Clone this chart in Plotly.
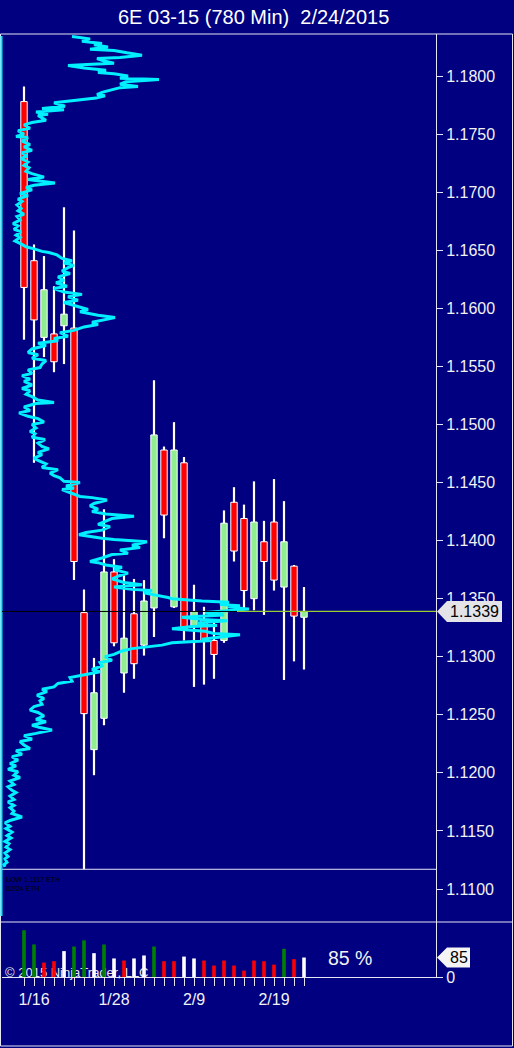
import plotly.graph_objects as go

# ---------------- data ----------------
dates = ["1/15", "1/16", "1/19", "1/20", "1/21", "1/22", "1/23", "1/26", "1/27", "1/28",
         "1/29", "1/30", "2/2", "2/3", "2/4", "2/5", "2/6", "2/9", "2/10", "2/11",
         "2/12", "2/13", "2/16", "2/17", "2/18", "2/19", "2/20", "2/23", "2/24"]
shown_dates = ["1/16", "1/28", "2/9", "2/19"]

opens  = [1.1778, 1.1641, 1.1575, 1.1578, 1.1585, 1.1583, 1.1338, 1.1220, 1.1247, 1.1373,
          1.1286, 1.1337, 1.1310, 1.1342, 1.1478, 1.1343, 1.1467, 1.1326, 1.1332, 1.1314,
          1.1314, 1.1433, 1.1419, 1.1350, 1.1399, 1.1416, 1.1360, 1.1378, 1.1334]
highs  = [1.1791, 1.1655, 1.1645, 1.1619, 1.1687, 1.1667, 1.1358, 1.1299, 1.1427, 1.1384,
          1.1370, 1.1367, 1.1366, 1.1538, 1.1481, 1.1502, 1.1472, 1.1362, 1.1343, 1.1332,
          1.1426, 1.1446, 1.1431, 1.1451, 1.1417, 1.1453, 1.1434, 1.1379, 1.1360]
lows   = [1.1573, 1.1467, 1.1558, 1.1545, 1.1552, 1.1366, 1.1117, 1.1198, 1.1241, 1.1309,
          1.1269, 1.1281, 1.1301, 1.1317, 1.1402, 1.1342, 1.1314, 1.1274, 1.1276, 1.1281,
          1.1312, 1.1382, 1.1340, 1.1340, 1.1336, 1.1357, 1.1280, 1.1296, 1.1289]
closes = [1.1618, 1.1590, 1.1616, 1.1554, 1.1595, 1.1382, 1.1251, 1.1269, 1.1373, 1.1312,
          1.1316, 1.1294, 1.1348, 1.1491, 1.1422, 1.1478, 1.1324, 1.1339, 1.1314, 1.1302,
          1.1415, 1.1391, 1.1357, 1.1416, 1.1382, 1.1366, 1.1399, 1.1335, 1.1339]

volumes = [204, 142, 63, 69, 113, 133, 160, 104, 142, 81, 72, 81, 94, 133, 69,
           69, 89, 81, 72, 50, 72, 50, 28, 72, 69, 54, 123, 78, 85]
vol_colors = ["g", "g", "r", "r", "w", "g", "g", "w", "g", "w", "r", "w", "w", "g", "r",
              "r", "w", "w", "r", "r", "r", "r", "r", "r", "r", "r", "g", "r", "w"]
vol_pct = "85 %"

low_line = 1.1117

# volume-at-price profile (price level, relative volume)
profile_price = [
    1.1834, 1.1832, 1.1830, 1.1828, 1.1827, 1.1825, 1.1823, 1.1822, 1.1820, 1.1818,
    1.1816, 1.1815, 1.1813, 1.1811, 1.1810, 1.1809, 1.1807, 1.1805, 1.1803, 1.1802,
    1.1800, 1.1798, 1.1797, 1.1795, 1.1793, 1.1791, 1.1790, 1.1788, 1.1786, 1.1784,
    1.1783, 1.1781,
    1.1779, 1.1777, 1.1774, 1.1772, 1.1771, 1.1769, 1.1767, 1.1766, 1.1764, 1.1762,
    1.1760, 1.1758, 1.1755, 1.1753, 1.1750, 1.1748, 1.1747, 1.1744, 1.1741, 1.1739,
    1.1736, 1.1734, 1.1731, 1.1729, 1.1726, 1.1723, 1.1721, 1.1718, 1.1716, 1.1713,
    1.1711, 1.1710, 1.1708, 1.1706, 1.1704, 1.1702, 1.1699, 1.1697, 1.1694, 1.1692,
    1.1689, 1.1686, 1.1684, 1.1681, 1.1679, 1.1676, 1.1673, 1.1671, 1.1668, 1.1666,
    1.1663, 1.1661, 1.1658, 1.1655, 1.1653,
    1.1651, 1.1649, 1.1648, 1.1646, 1.1643, 1.1641, 1.1639, 1.1637, 1.1635, 1.1632,
    1.1630, 1.1627, 1.1624, 1.1622, 1.1619, 1.1617, 1.1614, 1.1612, 1.1610, 1.1607,
    1.1605, 1.1602, 1.1599, 1.1597, 1.1594, 1.1592, 1.1590, 1.1588, 1.1586, 1.1584,
    1.1581, 1.1579, 1.1576, 1.1574, 1.1572, 1.1570, 1.1568, 1.1565, 1.1562, 1.1560,
    1.1557, 1.1555, 1.1552, 1.1549, 1.1547, 1.1544, 1.1542, 1.1539, 1.1537, 1.1534,
    1.1531, 1.1529, 1.1526, 1.1524, 1.1521,
    1.1519, 1.1518, 1.1515, 1.1512, 1.1510, 1.1507, 1.1505, 1.1502, 1.1500, 1.1497,
    1.1494, 1.1492, 1.1489, 1.1487, 1.1484, 1.1481, 1.1479, 1.1476, 1.1474, 1.1471,
    1.1469, 1.1466, 1.1463, 1.1461, 1.1458, 1.1456, 1.1454, 1.1451, 1.1450, 1.1447,
    1.1445, 1.1444, 1.1441, 1.1438, 1.1437, 1.1435, 1.1432, 1.1430, 1.1427, 1.1425,
    1.1423, 1.1421, 1.1419, 1.1417, 1.1414, 1.1412, 1.1409, 1.1407, 1.1405, 1.1402,
    1.1401, 1.1399, 1.1396, 1.1394, 1.1392, 1.1389, 1.1388, 1.1385, 1.1382, 1.1381,
    1.1379, 1.1377, 1.1375, 1.1372, 1.1370, 1.1367, 1.1364, 1.1362, 1.1360, 1.1358,
    1.1357, 1.1355, 1.1353, 1.1351, 1.1350,
    1.1348, 1.1347, 1.1345, 1.1344, 1.1343, 1.1341, 1.1339, 1.1338, 1.1336, 1.1334,
    1.1332, 1.1331, 1.1329, 1.1327, 1.1326, 1.1324, 1.1322, 1.1320, 1.1319, 1.1317,
    1.1315, 1.1314, 1.1312, 1.1310, 1.1308, 1.1307, 1.1305,
    1.1302, 1.1300, 1.1297, 1.1295, 1.1292, 1.1289, 1.1287, 1.1284, 1.1282, 1.1279,
    1.1277, 1.1274, 1.1272, 1.1270, 1.1267, 1.1264, 1.1262, 1.1259, 1.1257, 1.1254,
    1.1252, 1.1249, 1.1246, 1.1244, 1.1241, 1.1239, 1.1237, 1.1234, 1.1232, 1.1229,
    1.1227, 1.1224, 1.1221, 1.1219, 1.1216, 1.1214, 1.1211, 1.1208, 1.1206, 1.1203,
    1.1201, 1.1198, 1.1196, 1.1193, 1.1190, 1.1188, 1.1185, 1.1183, 1.1180, 1.1177,
    1.1175, 1.1172, 1.1170, 1.1167, 1.1165, 1.1162, 1.1159, 1.1157, 1.1154, 1.1152,
    1.1149, 1.1146, 1.1144, 1.1141, 1.1139, 1.1136, 1.1134, 1.1131, 1.1128, 1.1126,
    1.1123, 1.1121, 1.1119,
]
profile_vol = [
    70, 88, 80, 100, 92, 106, 88, 112, 125, 140, 118, 95, 102, 112, 85, 66, 82, 104, 96, 112,
    126, 118, 157, 124, 118, 136, 118, 108, 100, 95, 103, 94,
    70, 52, 63, 40, 62, 34, 46, 36, 40, 44, 30, 22, 28, 16, 22, 14, 26, 20, 28, 22, 30, 20,
    25, 19, 26, 22, 27, 24, 30, 42, 26, 36, 53, 32, 24, 30, 18, 26, 16, 20, 15, 19, 16, 22,
    15, 18, 11, 16, 12, 19, 14, 18, 13, 20, 24,
    33, 40, 47, 55, 60, 70, 62, 72, 66, 60, 68, 56, 62, 54, 65, 52, 62, 80, 66, 76, 62, 74,
    86, 78, 96, 113, 100, 90, 96, 82, 72, 58, 66, 52, 56, 36, 44, 30, 26, 36, 30, 44, 40, 38,
    26, 30, 20, 28, 22, 30, 20, 28, 24, 30, 36,
    52, 34, 22, 28, 17, 26, 36, 42, 30, 34, 28, 33, 30, 43, 36, 40, 47, 36, 40, 32, 36, 44,
    40, 56, 48, 52, 58, 62, 78, 64, 72, 60, 70, 78, 90, 105, 92, 88, 96, 90, 104, 132, 110,
    104, 96, 108, 100, 84, 77, 100, 112, 145, 130, 138, 118, 126, 110, 100, 88, 96, 104, 120,
    112, 126, 118, 110, 122, 140, 112, 130, 150, 142, 156, 166, 170,
    200, 227, 218, 238, 226, 247, 215, 203, 222, 180, 200, 225, 195, 215, 190, 170, 203, 212,
    238, 220, 200, 210, 170, 160, 140, 130, 120,
    112, 103, 110, 98, 100, 90, 98, 80, 68, 70, 56, 52, 40, 45, 35, 42, 38, 40, 32, 28, 36,
    42, 34, 44, 30, 38, 50, 34, 22, 30, 18, 22, 28, 14, 20, 10, 16, 8, 14, 6, 16, 12, 18, 8,
    12, 6, 10, 14, 8, 12, 6, 12, 8, 12, 10, 20, 8, 3, 8, 4, 10, 5, 9, 3, 7, 4, 8, 3, 6, 3,
    5, 2, 3,
]

title_text = "6E 03-15 (780 Min)  2/24/2015"

# ---------------- geometry / style ----------------
W, H = 514, 1048
ML, MR, MT, MB = 2, 78, 34, 71
PW, PH = W - ML - MR, H - MT - MB


def fx(p):
    return (p - ML) / PW


def fy(p):
    return (H - MB - p) / PH


NAVY = "#000080"
FRAME = "#E4E4F4"
TXT = "#F2F2F2"
FONT = "Arial, Liberation Sans, sans-serif"
RED = "#FF0000"
LGREEN = "#90EE90"
CYAN = "#00F0FF"
VCOL = {"g": "#008000", "r": "#FF0000", "w": "#FFFFFF"}

n = len(dates)
idx = list(range(n))
price_dom = [fy(922), 1.0]
vol_dom = [0.0, fy(922)]
price_range = [1.10716, 1.18362]
vol_range = [0, 240]

fig = go.Figure()

# wicks (as thin bars so that bodies are drawn on top of them)
fig.add_trace(go.Bar(x=idx, y=[h - l for h, l in zip(highs, lows)], base=lows, width=0.22,
                     marker=dict(color="white", line=dict(width=0), opacity=1),
                     xaxis="x", yaxis="y", hoverinfo="skip"))

# bodies
base = [min(o, c) for o, c in zip(opens, closes)]
hgt = [abs(c - o) for o, c in zip(opens, closes)]
bcol = [LGREEN if c >= o else RED for o, c in zip(opens, closes)]
fig.add_trace(go.Bar(x=idx, y=hgt, base=base, width=0.64,
                     marker=dict(color=bcol, line=dict(color="white", width=1), opacity=1),
                     xaxis="x", yaxis="y", hoverinfo="skip"))

# volume
fig.add_trace(go.Bar(x=idx, y=volumes, width=0.36,
                     marker=dict(color=[VCOL[c] for c in vol_colors], line=dict(width=0), opacity=1),
                     xaxis="x", yaxis="y2", hoverinfo="skip"))

# volume profile
m = min(len(profile_price), len(profile_vol))
fig.add_trace(go.Scatter(x=profile_vol[:m], y=profile_price[:m], mode="lines",
                         line=dict(color=CYAN, width=3), xaxis="x3", yaxis="y", hoverinfo="skip"))

last = closes[-1]
tick_txt = [d if d in shown_dates else "" for d in dates]

shapes = []
# outer frame
shapes.append(dict(type="rect", xref="paper", yref="paper", x0=fx(0.5), x1=fx(512.5), y0=fy(34), y1=fy(1046),
                   line=dict(color=FRAME, width=1), layer="above"))
shapes.append(dict(type="line", xref="paper", yref="paper", x0=fx(0.5), x1=fx(512.5), y0=fy(922), y1=fy(922),
                   line=dict(color=FRAME, width=1), layer="above"))
# low reference line
shapes.append(dict(type="line", xref="paper", yref="y", x0=0, x1=1, y0=low_line, y1=low_line,
                   line=dict(color=FRAME, width=1), layer="above"))
# cyan base line of profile
shapes.append(dict(type="line", xref="paper", yref="paper", x0=fx(1.5), x1=fx(1.5), y0=fy(36), y1=fy(916),
                   line=dict(color=CYAN, width=2), layer="above"))
# last price line
shapes.append(dict(type="line", xref="x", yref="y", x0=-2.2, x1=21.3, y0=last, y1=last,
                   line=dict(color="black", width=1), layer="above"))
shapes.append(dict(type="line", xref="x", yref="y", x0=21.3, x1=41.2, y0=last, y1=last,
                   line=dict(color="#9ACD32", width=1.3), layer="above"))
# price tag
hp = 10.5 / (PH * (price_dom[1] - price_dom[0]) / (price_range[1] - price_range[0]))
shapes.append(dict(type="path", xref="paper", yref="y",
                   path=f"M{fx(437)},{last} L{fx(447)},{last + hp} L{fx(502)},{last + hp} "
                        f"L{fx(502)},{last - hp} L{fx(447)},{last - hp} Z",
                   fillcolor="#E4E4E8", line=dict(width=0), layer="above"))
# volume tag
vlast = volumes[-1]
hv = 10 / (PH * (vol_dom[1] - vol_dom[0]) / (vol_range[1] - vol_range[0]))
shapes.append(dict(type="path", xref="paper", yref="y2",
                   path=f"M{fx(437)},{vlast} L{fx(447)},{vlast + hv} L{fx(470)},{vlast + hv} "
                        f"L{fx(470)},{vlast - hv} L{fx(447)},{vlast - hv} Z",
                   fillcolor="#F4F4F4", line=dict(width=0), layer="above"))
# copyright (under the volume bars)
shapes.append(dict(type="rect", xref="paper", yref="paper", x0=fx(0), x1=fx(160), y0=fy(980), y1=fy(962),
                   fillcolor="rgba(0,0,0,0)", line=dict(width=0), layer="below",
                   label=dict(text="© 2015 NinjaTrader, LLC", textposition="middle left",
                              font=dict(family=FONT, size=13, color="#E8E8E8"), padding=2)))

annotations = [
    dict(text=title_text, xref="paper", yref="paper", x=fx(253), y=fy(17), showarrow=False,
         font=dict(family=FONT, size=20, color="white"), xanchor="center", yanchor="middle"),
    dict(text=f"{last:.4f}", xref="paper", yref="y", x=fx(474), y=last, showarrow=False,
         font=dict(family=FONT, size=16, color="black"), xanchor="center", yanchor="middle"),
    dict(text=str(vlast), xref="paper", yref="y2", x=fx(459), y=vlast, showarrow=False,
         font=dict(family=FONT, size=16, color="black"), xanchor="center", yanchor="middle"),
    dict(text=vol_pct, xref="paper", yref="paper", x=fx(350), y=fy(958), showarrow=False,
         font=dict(family=FONT, size=19.5, color=TXT), xanchor="center", yanchor="middle"),
    dict(text="LOW 1.1117 ETH", xref="paper", yref="paper", x=fx(4), y=fy(879), showarrow=False,
         font=dict(family=FONT, size=7, color="black"), xanchor="left", yanchor="middle"),
    dict(text="02/24 ETH", xref="paper", yref="paper", x=fx(4), y=fy(888), showarrow=False,
         font=dict(family=FONT, size=7, color="black"), xanchor="left", yanchor="middle"),
]

fig.update_layout(
    width=W, height=H, autosize=False,
    margin=dict(l=ML, r=MR, t=MT, b=MB, pad=0),
    paper_bgcolor=NAVY, plot_bgcolor="rgba(0,0,0,0)",
    showlegend=False, hovermode=False, barmode="overlay",
    font=dict(family=FONT, color=TXT),
    xaxis=dict(domain=[0, 1], range=[-2.2, 41.2], anchor="y2", tickmode="array", tickvals=idx,
               ticktext=tick_txt, ticks="outside", ticklen=8, tickcolor=FRAME, tickwidth=1,
               showgrid=False, zeroline=False, showline=True, linecolor=FRAME, linewidth=1,
               tickfont=dict(family=FONT, size=16, color=TXT)),
    xaxis3=dict(overlaying="x", range=[0, 434], visible=False, anchor="y"),
    yaxis=dict(domain=price_dom, range=price_range, side="right", anchor="x", tick0=1.11, dtick=0.005,
               tickformat=".4f", ticks="outside", ticklen=6, tickcolor=FRAME, showgrid=False,
               zeroline=False, showline=True, linecolor=FRAME, linewidth=1,
               tickfont=dict(family=FONT, size=16, color=TXT)),
    yaxis2=dict(domain=vol_dom, range=vol_range, side="right", anchor="x", tickmode="array",
                tickvals=[0], ticktext=["0"], ticks="outside", ticklen=6, tickcolor=FRAME,
                showgrid=False, zeroline=False, showline=True, linecolor=FRAME, linewidth=1,
                tickfont=dict(family=FONT, size=16, color=TXT)),
    shapes=shapes,
    annotations=annotations,
)

fig.write_html("out.html", config={"displayModeBar": False},
               post_script="document.body.style.margin='0px';document.body.style.padding='0px';"
                           "document.body.style.overflow='hidden';")
